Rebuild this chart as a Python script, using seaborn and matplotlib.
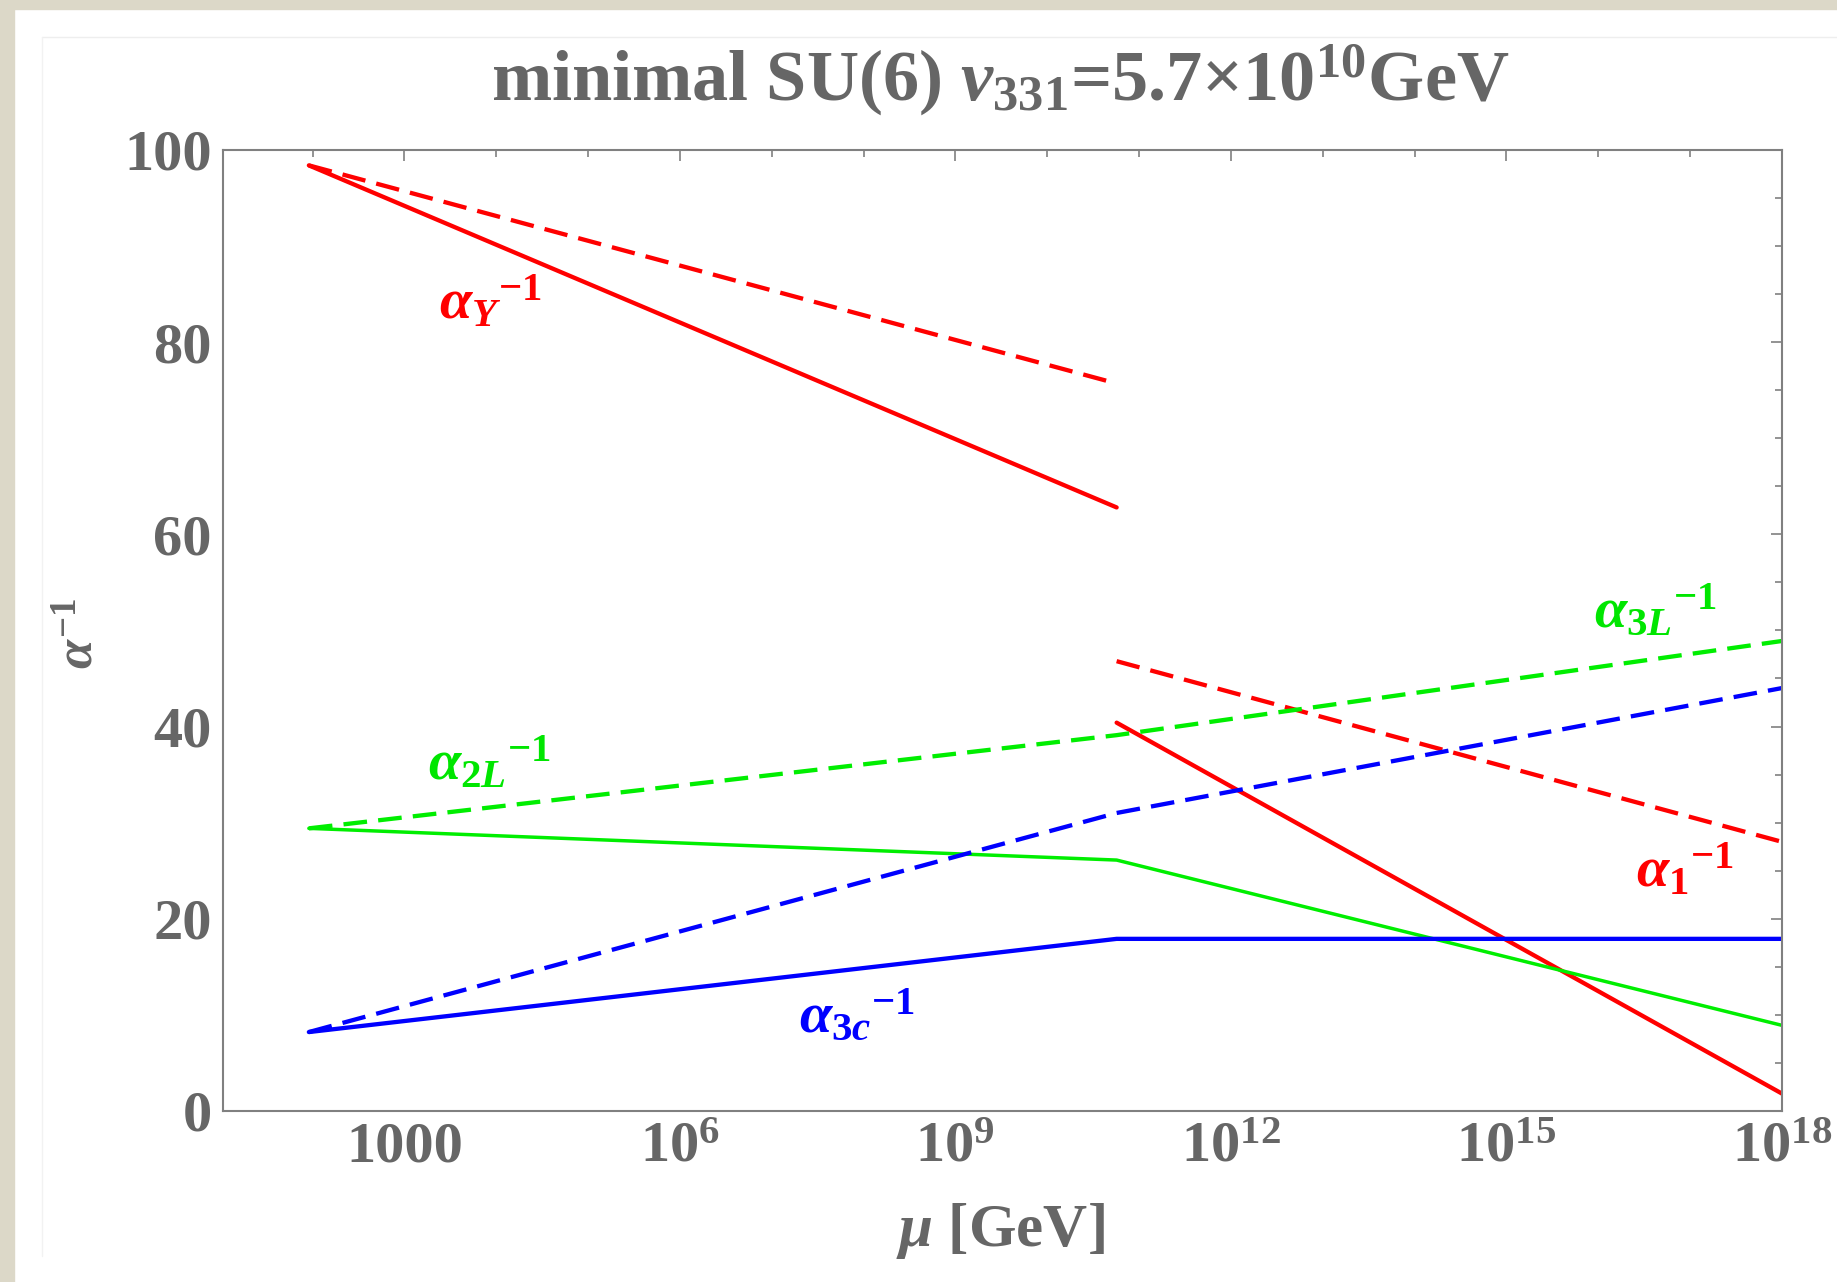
"""Running inverse gauge couplings in minimal SU(6) with v331 = 5.7e10 GeV."""
import matplotlib
matplotlib.use("Agg")
import matplotlib.pyplot as plt
from matplotlib.patches import Rectangle
from matplotlib.lines import Line2D
import pandas as pd
import seaborn as sns

# scales (GeV): M_Z, the 331 breaking scale, and the upper end of the plot
MU_LOW = [91.19, 5.7e10]
MU_HIGH = [5.7e10, 1e18]
MU_ALL = [91.19, 5.7e10, 1e18]

# inverse couplings
ALPHA_Y_SOLID = [98.4, 62.8]
ALPHA_Y_DASHED = [98.4, 75.7]
ALPHA_1_SOLID = [40.4, 1.8]
ALPHA_1_DASHED = [46.8, 28.0]
ALPHA_2L_SOLID = [29.4, 26.1, 8.9]
ALPHA_2L_DASHED = [29.4, 39.1, 48.9]
ALPHA_3C_SOLID = [8.2, 17.9, 17.9]
ALPHA_3C_DASHED = [8.2, 31.0, 44.0]

X_TICKS = [1e3, 1e6, 1e9, 1e12, 1e15, 1e18]
X_TICK_LABELS = ["1000", r"$10^{6}$", r"$10^{9}$", r"$10^{12}$", r"$10^{15}$", r"$10^{18}$"]
Y_TICKS = [0, 20, 40, 60, 80, 100]

# curve labels: (text, mu, value, colour)
LABELS = [
    (r"$\alpha_{Y}{}^{-1}$", 2.4e3, 84.1, "#ff0000"),
    (r"$\alpha_{2L}{}^{-1}$", 1.8e3, 36.1, "#00e600"),
    (r"$\alpha_{3c}{}^{-1}$", 2.0e7, 9.8, "#0000ff"),
    (r"$\alpha_{3L}{}^{-1}$", 8.9e15, 52.0, "#00e600"),
    (r"$\alpha_{1}{}^{-1}$", 2.6e16, 25.0, "#ff0000"),
]

RED, GREEN, BLUE = "#ff0000", "#00ee00", "#0000ff"
GREY = "#666666"

sns.set_style("white")
plt.rcParams["font.family"] = ["Liberation Serif", "DejaVu Serif"]
plt.rcParams["font.weight"] = "bold"
plt.rcParams["mathtext.fontset"] = "custom"
plt.rcParams["mathtext.rm"] = "Liberation Serif:bold"
plt.rcParams["mathtext.bf"] = "Liberation Serif:bold"
plt.rcParams["mathtext.it"] = "Liberation Serif:italic:bold"

fig = plt.figure(figsize=(18.37, 12.82), dpi=100, facecolor="white")
# screenshot frame: beige strip left/top, faint inner border
fig.patches.append(Rectangle((0, 0), 14 / 1837, 1, transform=fig.transFigure,
                             color="#dcd8c8", zorder=0))
fig.patches.append(Rectangle((0, 1 - 9 / 1282), 1, 9 / 1282, transform=fig.transFigure,
                             color="#dcd8c8", zorder=0))
fig.lines.append(Line2D([42 / 1837, 1], [1 - 37 / 1282] * 2, transform=fig.transFigure,
                        color="#eeeeee", lw=1))
fig.lines.append(Line2D([42 / 1837] * 2, [0.02, 1 - 37 / 1282], transform=fig.transFigure,
                        color="#f2f2f2", lw=1))

ax = fig.add_axes([0.1212, 0.1335, 0.8488, 0.7495])
ax.set_facecolor("white")

lw = 3.1
dash = (5.5, 2.6)
segments = [
    (MU_LOW, ALPHA_Y_SOLID, RED, None),
    (MU_LOW, ALPHA_Y_DASHED, RED, dash),
    (MU_HIGH, ALPHA_1_SOLID, RED, None),
    (MU_HIGH, ALPHA_1_DASHED, RED, dash),
    (MU_ALL, ALPHA_2L_SOLID, GREEN, None),
    (MU_ALL, ALPHA_2L_DASHED, GREEN, dash),
    (MU_ALL, ALPHA_3C_SOLID, BLUE, None),
    (MU_ALL, ALPHA_3C_DASHED, BLUE, dash),
]
for mu, vals, col, dashes in segments:
    df = pd.DataFrame({"mu": mu, "inv_alpha": vals})
    line_lw = lw if col != GREEN or dashes else 2.5
    sns.lineplot(data=df, x="mu", y="inv_alpha", color=col, lw=line_lw,
                 sort=False, estimator=None, ax=ax, legend=False)
    if dashes:
        ax.lines[-1].set_dashes(dashes)

for text, mu, val, col in LABELS:
    ax.text(mu, val, text, color=col, fontsize=42, ha="left", va="center")

ax.set_xscale("log")
ax.set_xlim(10.5, 1e18)
ax.set_ylim(0, 100)
ax.set_xticks(X_TICKS)
ax.set_xticklabels(X_TICK_LABELS)
ax.set_xticks([10.0 ** k for k in range(2, 18) if k % 3], minor=True)
ax.set_xticklabels([], minor=True)
ax.set_yticks(Y_TICKS)
ax.set_yticks([v for v in range(5, 100, 5) if v % 20], minor=True)

for side in ax.spines.values():
    side.set_color("#808080")
    side.set_linewidth(1.5)
ax.tick_params(which="both", direction="in", top=True, right=True,
               color="#808080", width=1.2, labelcolor=GREY, labelsize=42)
ax.tick_params(which="major", length=8)
ax.tick_params(which="minor", length=5)
ax.tick_params(axis="x", pad=8)
ax.tick_params(axis="y", pad=8)
ax.set_xlabel("")
ax.set_ylabel("")

fig.text(0.5445, 0.9376, r"minimal SU(6) $v_{331}$=5.7×10$^{10}$GeV",
         ha="center", va="center", fontsize=52, color=GREY)
fig.text(0.5445, 0.040, r"$\mu$ [GeV]", ha="center", va="center",
         fontsize=44, color=GREY)
fig.text(0.0435, 0.506, r"$\alpha^{-1}$", ha="center", va="center",
         rotation=90, fontsize=38, color=GREY)

fig.savefig("out.png", dpi=100, facecolor=fig.get_facecolor())
